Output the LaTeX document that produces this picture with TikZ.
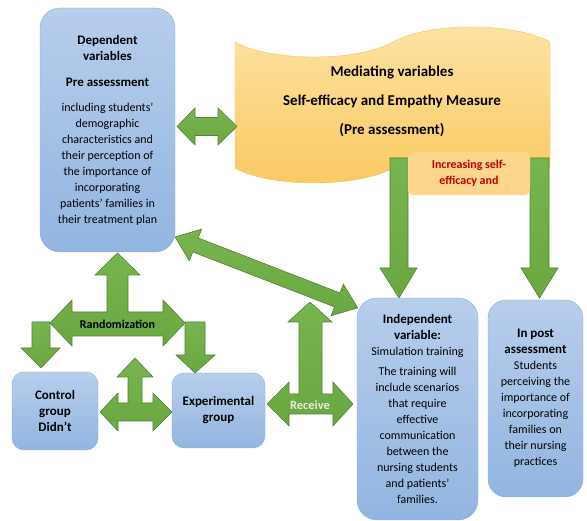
\documentclass[tikz,border=0pt]{standalone}
\usepackage{fontspec}
\setmainfont{Carlito}
\usepackage{xcolor}

\definecolor{boxtop}{RGB}{183,206,236}
\definecolor{boxbot}{RGB}{146,181,224}
\definecolor{boxline}{RGB}{140,174,218}
\definecolor{tapetop}{RGB}{253,227,163}
\definecolor{tapebot}{RGB}{250,201,97}
\definecolor{tapeline}{RGB}{245,196,85}
\definecolor{arrtop}{RGB}{120,181,80}
\definecolor{arrbot}{RGB}{106,167,64}
\definecolor{arrline}{RGB}{84,130,53}
\definecolor{incfill}{RGB}{252,214,140}
\definecolor{incred}{RGB}{192,0,0}
\definecolor{recvtext}{RGB}{228,240,220}

\tikzset{
  bluebox/.style={draw=boxline, top color=boxtop, bottom color=boxbot,
    rounded corners=#1, align=center, inner sep=0pt},
  bluebox/.default=20pt,
  tapebox/.style={draw=tapeline, top color=tapetop, bottom color=tapebot},
  incbox/.style={fill=incfill, draw=incfill, rounded corners=6pt, align=center,
    inner sep=0pt, text=incred, font=\fontsize{12}{16}\selectfont\bfseries},
  greenarrow/.style={draw=arrline, line width=0.6pt, top color=arrtop,
    bottom color=arrbot, line join=miter},
}

\newcommand{\hd}[1]{{\fontsize{13}{16}\selectfont\bfseries #1}}

\begin{document}
\begin{tikzpicture}[x=1pt, y=-1pt, every node/.style={font=\fontsize{12}{16}\selectfont}]
    \useasboundingbox (0,0) rectangle (587,521);

    \draw[tapebox] (235,42) .. controls (270,62) and (358,62) .. (393,42)
      .. controls (428,22) and (515,22) .. (550,42) -- (550,168)
      .. controls (515,148) and (428,148) .. (393,168)
      .. controls (358,188) and (270,188) .. (235,168) -- cycle;
    \node[align=center, font=\fontsize{15}{29}\selectfont\bfseries] (med) at (392,101)
      {Mediating variables\\ Self-efficacy and Empathy Measure\\ (Pre assessment)};

    \draw[greenarrow] (390,158) -- (408,158) -- (408,268) -- (417,268) -- (399,298)
      -- (380,268) -- (390,268) -- cycle;
    \draw[greenarrow] (530,158) -- (549,158) -- (549,268) -- (558,268) -- (539.5,298)
      -- (521,268) -- (530,268) -- cycle;
    \node[incbox, minimum width=122pt, minimum height=43pt] (inc) at (469,173.5)
      {Increasing self-\\efficacy and};

    \node[bluebox, minimum width=135pt, minimum height=244pt] (dep) at (107.5,130)
      {\hd{Dependent}\\ \hd{variables}\\[10pt] \hd{Pre assessment}\\[9pt]
       including students’\\ demographic\\ characteristics and\\ their perception of\\
       the importance of\\ incorporating\\ patients’ families in\\ their treatment plan};
    \node[bluebox, minimum width=121pt, minimum height=222pt] (indep) at (417.5,409)
      {\hd{Independent}\\ \hd{variable:}\\ Simulation training\\[4pt] The training will\\
       include scenarios\\ that require\\ effective\\ communication\\ between the\\
       nursing students\\ and patients'\\ families.};
    \node[bluebox=18pt, minimum width=95pt, minimum height=197pt] (post) at (535.5,398.5)
      {\hd{In post}\\ \hd{assessment}\\ Students\\ perceiving the\\ importance of\\
       incorporating\\ families on\\ their nursing\\ practices};
    \node[bluebox=12pt, minimum width=86pt, minimum height=78pt] (ctrl) at (55,411)
      {\hd{Control}\\ \hd{group}\\ \hd{Didn’t}};
    \node[bluebox=12pt, minimum width=93pt, minimum height=75pt] (expg) at (218.5,410.5)
      {\hd{Experimental}\\ \hd{group}};

    \draw[greenarrow] (177,126.5) -- (195,108) -- (195,117.5) -- (218,117.5) -- (218,108)
      -- (237,126.5) -- (218,145) -- (218,135.5) -- (195,135.5) -- (195,145) -- cycle;

    \begin{scope}[shift={(175,237)}, rotate=-21.2]
      \draw[greenarrow] (0,0) -- (22,17) -- (22,7.5) -- (174,7.5) -- (174,17) -- (196,0)
        -- (174,-17) -- (174,-7.5) -- (22,-7.5) -- (22,-17) -- cycle;
    \end{scope}

    \draw[greenarrow] (32,322) -- (50,322) -- (50,348) -- (60,348) -- (41,368) -- (21,348)
      -- (32,348) -- cycle;
    \draw[greenarrow] (185,322) -- (205,322) -- (205,355) -- (215,355) -- (195,373)
      -- (176,355) -- (185,355) -- cycle;
    \draw[greenarrow] (117.5,253) -- (140,275) -- (128,275) -- (128,312) -- (163,312)
      -- (163,300) -- (185,323) -- (163,346) -- (163,336) -- (72,336) -- (72,346) -- (50,323)
      -- (72,300) -- (72,312) -- (107,312) -- (107,275) -- (95,275) -- cycle;
    \node[font=\fontsize{12}{16}\selectfont\bfseries] (rand) at (117.5,324) {Randomization};

    \draw[greenarrow] (135,358) -- (153,377) -- (142,377) -- (142,403) -- (153,403)
      -- (153,393) -- (172,412) -- (153,431) -- (153,421) -- (118,421) -- (118,431)
      -- (100,412) -- (118,393) -- (118,403) -- (128,403) -- (128,377) -- (117,377) -- cycle;

    \draw[greenarrow] (310,302) -- (332,322) -- (322,322) -- (322,394) -- (333,394)
      -- (333,382) -- (353,404) -- (333,426) -- (333,414) -- (289,414) -- (289,426)
      -- (267,404) -- (289,382) -- (289,394) -- (299,394) -- (299,322) -- (288,322) -- cycle;
    \node[font=\fontsize{12.5}{16}\selectfont\bfseries, text=recvtext] (recv) at (310,405) {Receive};

\end{tikzpicture}
\end{document}
